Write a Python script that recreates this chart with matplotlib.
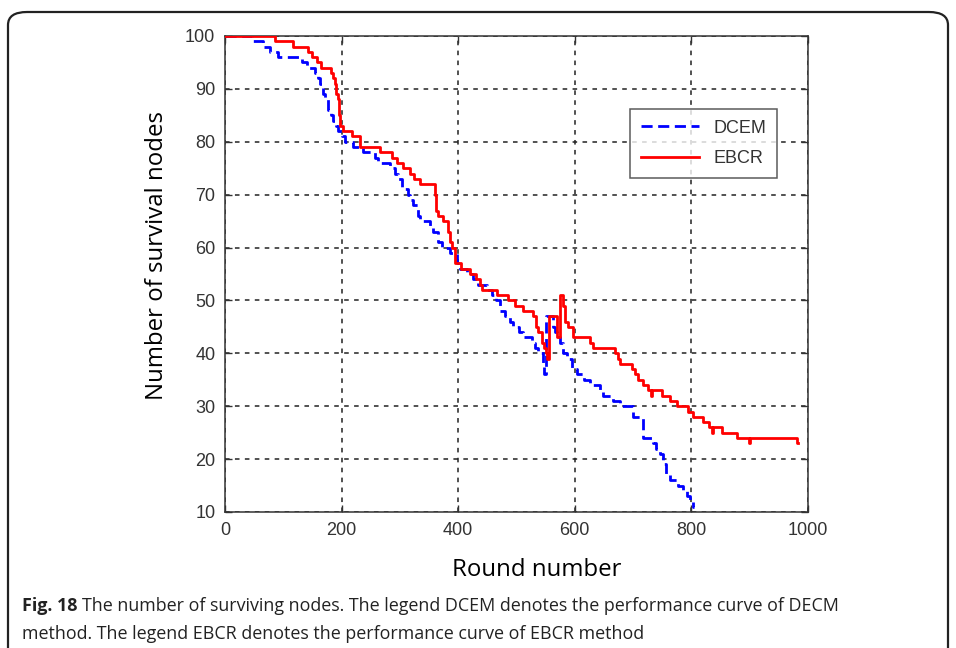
import matplotlib
matplotlib.use("Agg")
import matplotlib.pyplot as plt
from matplotlib.patches import FancyBboxPatch

# ---- data ----
ebcr_x = [0, 86, 117, 142, 150, 157, 165, 182, 186, 188, 191, 194, 196, 198, 202, 218, 231,
          266, 286, 295, 305, 317, 325, 335, 360, 362, 366, 374, 382, 386, 389, 394, 405, 420,
          430, 437, 440, 466, 485, 497, 511, 528, 533, 537, 543, 547, 551, 553, 556, 569, 575,
          579, 583, 588, 597, 626, 631, 669, 674, 677, 698, 703, 709, 717, 725, 730, 733, 750,
          763, 775, 794, 802, 820, 831, 835, 837, 852, 878, 899, 901, 981, 983]
ebcr_y = [100, 99, 98, 97, 96, 95, 94, 93, 92, 91, 89, 88, 85, 83, 82, 81, 79,
          78, 77, 76, 75, 74, 73, 72, 70, 67, 66, 65, 63, 61, 60, 57, 56, 55,
          54, 53, 52, 51, 50, 49, 48, 47, 45, 44, 42, 41, 40, 39, 47, 43, 51,
          49, 46, 45, 43, 42, 41, 40, 39, 38, 37, 36, 35, 34, 33, 32, 33, 32,
          31, 30, 29, 28, 27, 26, 25, 26, 25, 24, 23, 24, 23, 23]

dcem_x = [0, 46, 65, 77, 91, 132, 140, 154, 160, 163, 168, 172, 177, 181, 185, 190, 194,
          200, 206, 220, 237, 257, 262, 283, 292, 297, 303, 314, 318, 322, 331, 334, 351,
          357, 365, 372, 386, 398, 403, 415, 425, 434, 450, 458, 465, 471, 480, 488, 494,
          505, 511, 526, 532, 537, 545, 548, 550, 562, 566, 570, 574, 580, 586, 595, 603,
          615, 626, 643, 648, 665, 677, 700, 717, 734, 740, 746, 751, 757, 763, 777, 785,
          792, 798, 803, 805]
dcem_y = [100, 99, 98, 97, 96, 95, 94, 93, 92, 91, 89, 88, 86, 85, 84, 83, 82,
          81, 80, 79, 78, 77, 76, 75, 74, 73, 71, 70, 69, 68, 66, 65, 64,
          63, 61, 60, 59, 57, 56, 55, 54, 53, 52, 51, 50, 48, 47, 46, 45,
          44, 43, 42, 41, 40, 38, 36, 47, 45, 44, 43, 42, 40, 39, 37, 36,
          35, 34, 33, 32, 31, 30, 28, 24, 23, 22, 21, 19, 17, 16, 15, 14,
          13, 12, 11, 11]

x_ticks = [0, 200, 400, 600, 800, 1000]
y_ticks = [10, 20, 30, 40, 50, 60, 70, 80, 90, 100]

# ---- figure ----
W, H = 956, 648
fig = plt.figure(figsize=(W / 100, H / 100), dpi=100)
fig.patch.set_facecolor("white")

# rounded outer frame (open at bottom)
frame = FancyBboxPatch((8 / W, -0.1), (948 - 8) / W, 0.1 + 1 - 12 / H,
                       boxstyle="round,pad=0,rounding_size=0.02",
                       transform=fig.transFigure, fill=False,
                       edgecolor="#222222", linewidth=1.6, clip_on=False)
fig.patches.append(frame)

left, right, top, bottom = 225, 808, 36, 512
ax = fig.add_axes([left / W, 1 - bottom / H, (right - left) / W, (bottom - top) / H])

ax.plot(dcem_x, dcem_y, drawstyle="steps-post", color="#0000ff", linestyle=(0, (4, 2)),
        linewidth=2.0, label="DCEM", zorder=3)
ax.plot(ebcr_x, ebcr_y, drawstyle="steps-post", color="#ff0000", linestyle="-",
        linewidth=2.0, label="EBCR", zorder=4)

ax.set_xlim(0, 1000)
ax.set_ylim(10, 100)
ax.set_xticks(x_ticks)
ax.set_yticks(y_ticks)
tick_font = ["Liberation Sans", "DejaVu Sans"]
ax.set_xticklabels([str(v) for v in x_ticks], fontsize=13, color="#333333", family=tick_font)
ax.set_yticklabels([str(v) for v in y_ticks], fontsize=13, color="#333333", family=tick_font)
ax.tick_params(direction="in", length=5, width=1, colors="#333333", top=True, right=True,
               pad=7)
ax.grid(True, color="#222222", linestyle=(0, (3, 3.5)), linewidth=1.1)
for s in ax.spines.values():
    s.set_color("#333333")
    s.set_linewidth(1.1)

lab_font = ["Open Sans", "DejaVu Sans"]
ax.set_xlabel("Round number", fontsize=17.3, family=lab_font)
ax.set_ylabel("Number of survival nodes", fontsize=17.3, family=lab_font)
ax.xaxis.set_label_coords((537 - left) / (right - left), (bottom - 570) / (bottom - top))
ax.yaxis.set_label_coords((157 - left) / (right - left), (bottom - 255) / (bottom - top))
ax.xaxis.label.set_va("center")
ax.yaxis.label.set_va("center")

leg = ax.legend(loc="upper left", bbox_to_anchor=(0.695, 0.847),
                prop={"family": "Liberation Sans", "size": 13}, frameon=True, fancybox=False,
                edgecolor="#333333", handlelength=3.2, borderpad=0.6, labelspacing=0.75,
                handletextpad=0.8, borderaxespad=0)
leg.get_frame().set_linewidth(1.1)
for t in leg.get_texts():
    t.set_color("#333333")

# caption
cap_font = ["Open Sans", "DejaVu Sans"]
cap_size = 12.9
renderer = fig.canvas.get_renderer()
t1 = fig.text(22 / W, 1 - 606 / H, "Fig. 18", fontsize=cap_size, weight="bold", family=cap_font,
              va="center", ha="left", color="#222222")
bb = t1.get_window_extent(renderer)
fig.text((bb.x1 + 5) / W, 1 - 606 / H,
         "The number of surviving nodes. The legend DCEM denotes the performance curve of DECM",
         fontsize=cap_size, family=cap_font, va="center", ha="left", color="#222222")
fig.text(22 / W, 1 - 634 / H,
         "method. The legend EBCR denotes the performance curve of EBCR method",
         fontsize=cap_size, family=cap_font, va="center", ha="left", color="#222222")

fig.savefig("out.png", dpi=100)
